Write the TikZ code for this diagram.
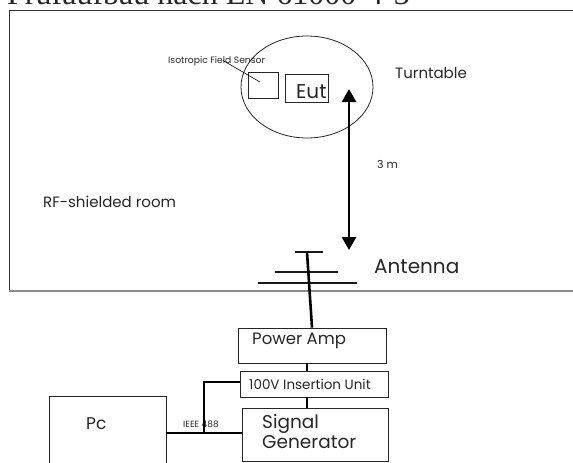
\documentclass[tikz,border=0pt]{standalone}
\usepackage{fontspec}
\setmainfont{Poppins}
\newfontfamily\titlefont{Liberation Serif}
\usetikzlibrary{arrows.meta,shapes.geometric}
\begin{document}
\begin{tikzpicture}[x=1pt,y=-1pt,
  box/.style={draw=black!85, line width=0.8pt},
  wire/.style={draw=black, line width=2.6pt},
  bar/.style={draw=black!90, line width=2.8pt},
  lbl/.style={inner sep=0pt, anchor=base west},
  every node/.style={text=black!85}]
\useasboundingbox (0,0) rectangle (573,463);
% title (cut off at top)
\node[lbl, font=\titlefont\fontsize{32}{34}\selectfont] (title) at (7,4.5) {Prüfaufbau nach EN 61000-4-3};
% room
\draw[draw=black!80, line width=0.9pt] (9,291) -- (9,10) -- (580,10);
\draw[draw=black!45, line width=1.2pt] (9,291) -- (580,291);
\node[lbl, font=\fontsize{15}{17}\selectfont] (room) at (43,207) {RF-shielded room};
% turntable
\node[draw=black!85, line width=0.8pt, ellipse, minimum width=132pt, minimum height=102pt, inner sep=0pt] (tt) at (307,87) {};
\node[lbl, font=\fontsize{15}{17}\selectfont] (ttl) at (395,78) {Turntable};
\node[box, minimum width=30pt, minimum height=26pt, inner sep=0pt] (sensor) at (263,85) {};
\node[box, minimum width=43pt, minimum height=28pt, inner sep=0pt] (eut) at (306.5,88) {};
\node[lbl, font=\fontsize{20}{22}\selectfont] (eutl) at (296,98.5) {Eut};
\node[lbl, font=\fontsize{9.2}{10}\selectfont] (sl) at (168,63) {Isotropic Field Sensor};
\coordinate (slend) at (260,82);
\draw[line width=0.6pt] (223,60.5) -- (slend);
% distance arrow
\coordinate (atop) at (349,89);
\coordinate (abot) at (349,250);
\draw[wire, line width=2.7pt, {Triangle[length=13pt,width=14pt]}-{Triangle[length=13pt,width=14pt]}] (atop) -- (abot);
\node[lbl, font=\fontsize{11}{12}\selectfont] (dist) at (377,168) {3 m};
% antenna
\coordinate (mtop) at (307,252);
\draw[bar] (295,252) -- (323,252);
\draw[bar] (275,272) -- (338,272);
\draw[bar] (258,283) -- (357,283);
\node[lbl, font=\fontsize{20}{22}\selectfont] (ant) at (374,273) {Antenna};
% equipment
\node[box, minimum width=148pt, minimum height=35pt, inner sep=0pt] (pa) at (312,345.5) {};
\node[lbl, font=\fontsize{16.5}{18}\selectfont] at (252,344) {Power Amp};
\node[box, minimum width=148pt, minimum height=26pt, inner sep=0pt] (iu) at (314,384) {};
\node[lbl, font=\fontsize{13.5}{15}\selectfont] at (249,389) {100V Insertion Unit};
\node[box, minimum width=146pt, minimum height=53pt, inner sep=0pt] (sg) at (315,434.5) {};
\node[lbl, font=\fontsize{18.5}{20}\selectfont] at (262,428) {Signal};
\node[lbl, font=\fontsize{18.5}{20}\selectfont] at (262,448) {Generator};
\draw[box] (49,470) -- (49,396) -- (166,396) -- (166,470);
\coordinate (pcr) at (166,433);
\node[lbl, font=\fontsize{17}{19}\selectfont] (pc) at (86,429) {Pc};
\node[lbl, font=\fontsize{9}{10}\selectfont] (ieee) at (183,427) {IEEE 488};
% wires
\coordinate (br) at (204,382);
\draw[wire] (mtop) -- (pa.north);
\draw[wire] (pa.south -| mtop) -- (iu.north -| mtop);
\draw[wire] (iu.south -| mtop) -- (sg.north -| mtop);
\draw[wire] (pcr) -- (pcr -| sg.west);
\draw[wire] (br |- pcr) -- (br) -- (br -| iu.west);
\end{tikzpicture}
\end{document}
